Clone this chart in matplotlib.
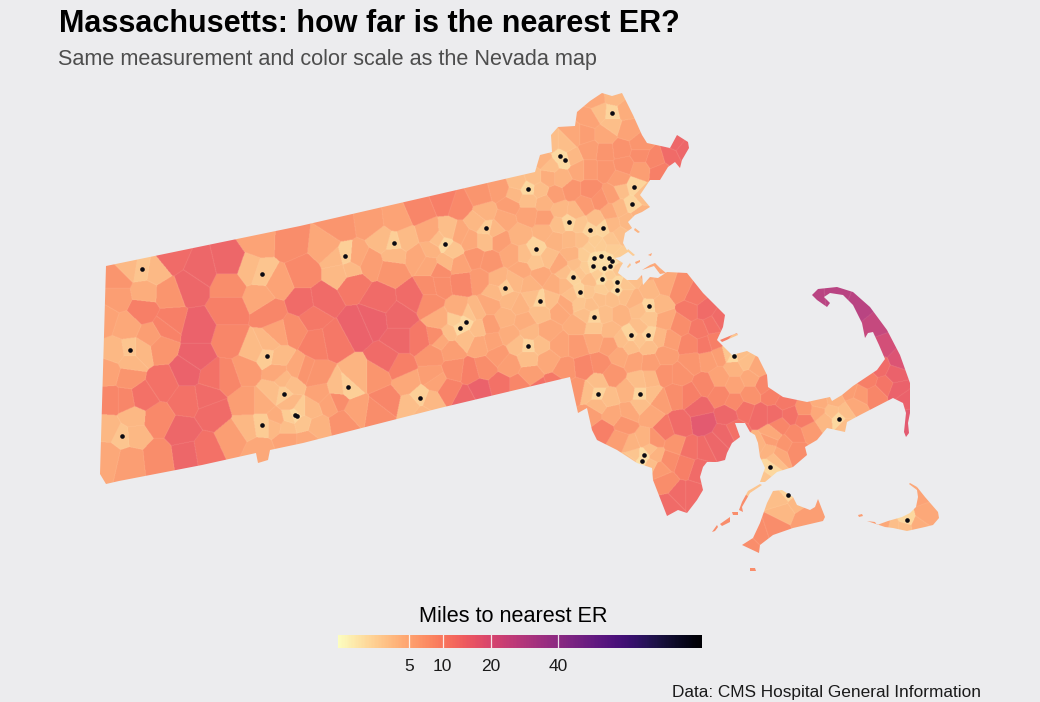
import numpy as np
import matplotlib
matplotlib.use('Agg')
import matplotlib.pyplot as plt
from matplotlib.colors import FuncNorm, to_rgb
from matplotlib.cm import ScalarMappable
from matplotlib.path import Path
from matplotlib.patches import PathPatch

BG = '#ECECEE'
plt.rcParams['font.family'] = ['Liberation Sans', 'DejaVu Sans']

# ---- coast outlines, in map units
mainland = [
    (106, 266), (300, 226), (535, 172), (540, 155), (552, 152), (551, 135), (558, 127), (575, 126),
    (577, 112), (590, 101), (602, 93), (612, 96), (622, 93), (633, 115), (642, 135), (647, 143), (670, 148),
    (677, 135), (688, 142), (689, 148), (682, 160), (680, 168), (675, 162), (668, 167), (660, 180),
    (650, 180), (640, 195), (650, 207), (642, 212), (635, 215), (628, 222), (632, 228), (625, 233),
    (623, 243), (628, 252), (620, 257), (615, 258), (623, 263), (620, 268), (618, 273), (627, 280),
    (637, 280), (642, 275), (643, 285), (650, 277), (658, 278), (667, 272), (687, 273), (703, 293),
    (725, 315), (723, 327), (717, 340), (732, 355), (747, 351), (758, 357), (767, 375), (768, 387),
    (783, 397), (807, 402), (830, 397), (832, 401), (842, 395), (853, 386), (877, 370), (885, 359),
    (879, 345), (873, 332), (868, 333), (865, 338), (862, 323), (853, 305), (843, 295), (830, 293), (824, 297), (830, 303),
    (827, 307), (817, 300), (812, 295), (818, 289), (837, 287), (853, 292), (870, 307), (887, 330),
    (900, 355), (910, 383), (910, 413), (908, 423), (909, 433), (906, 437), (904, 432), (906, 413),
    (903, 403), (893, 398), (860, 415), (847, 422), (845, 432), (827, 428), (817, 440), (805, 447),
    (807, 455), (793, 467), (777, 472), (765, 482), (760, 482), (765, 468), (760, 457), (758, 443),
    (755, 435), (750, 432), (745, 423), (735, 423), (740, 437), (732, 443), (727, 453), (725, 460),
    (717, 462), (707, 462), (703, 467), (700, 477), (703, 490), (697, 500), (687, 513), (678, 510),
    (667, 516), (653, 480), (652, 468), (637, 463), (617, 450), (597, 440), (592, 430), (587, 408),
    (578, 413), (570, 377), (440, 408), (303, 443), (270, 450), (268, 460), (258, 463), (256, 453),
    (202, 465), (119, 481), (106, 484), (100, 474),
]
vineyard = [
    (773, 491), (782, 490), (793, 497), (797, 505), (810, 510), (815, 507), (818, 499), (825, 517),
    (823, 521), (793, 528), (773, 535), (760, 545), (759, 553), (742, 545), (753, 538), (760, 523),
    (767, 503),
]
nantucket = [
    (910, 483), (917, 487), (925, 497), (938, 512), (939, 518), (933, 525), (925, 527), (907, 531),
    (893, 528), (885, 527), (867, 521), (875, 522), (877, 525), (888, 521), (902, 517), (910, 513),
    (916, 507), (918, 497), (917, 490), (909, 484),
]
small_islands = [
    [(762, 485), (750, 493), (742, 507), (743, 512), (739, 510), (742, 502), (748, 491), (760, 484)],
    [(738, 512), (732, 512), (733, 515), (738, 515)],
    [(730, 517), (720, 524), (722, 526), (730, 522)],
    [(717, 525), (712, 532), (715, 531), (718, 527)],
    [(750, 568), (755, 568), (756, 571), (750, 571)],
    [(858, 515), (862, 514), (863, 516), (859, 517)],
    [(642, 270), (650, 265), (655, 263), (660, 268), (666, 273), (660, 274), (654, 266), (648, 268)],
    [(635, 228), (640, 232), (638, 233), (634, 230)],
    [(628, 249), (635, 255), (633, 256), (627, 251)],
    [(648, 255), (652, 253), (651, 256)],
    [(627, 267), (630, 263), (631, 265), (628, 268)],
    [(635, 262), (640, 260), (640, 262), (636, 264)],
    [(720, 340), (737, 333), (738, 335), (722, 342)],
]

# ---- emergency rooms
er_x = [612, 560, 565, 528, 634, 632, 569, 590, 603, 486, 445, 536, 594, 601, 609, 612, 593, 604, 610,
        573, 602, 617, 617, 580, 505, 540, 649, 466, 460, 594, 631, 648, 528,
        142, 262, 345, 394, 130, 267, 284, 348, 420, 295, 297, 262, 122,
        598, 640, 644, 642, 734, 770, 839, 788, 907]
er_y = [113, 156, 160, 189, 187, 204, 222, 230, 228, 228, 244, 249, 258, 256, 258, 261, 266, 268, 266,
        277, 279, 282, 290, 292, 288, 301, 306, 322, 328, 317, 335, 335, 346,
        269, 274, 256, 243, 350, 356, 394, 387, 398, 415, 416, 425, 436,
        394, 394, 455, 461, 356, 467, 419, 495, 520]

# ---- miles to nearest ER per town / tract (x, y, miles)
towns_west = [
    (118, 280, 7), (142, 270, 2.5), (130, 268, 3.3), (155, 272, 3.3), (145, 292, 4.5), (168, 293, 7), (167, 327, 9.5),
    (200, 270, 14), (190, 285, 14), (230, 263, 14), (172, 258, 13), (260, 242, 5.5), (262, 274, 2.5), (250, 270, 3.2),
    (260, 297, 5), (278, 283, 5.5), (230, 285, 8), (230, 310, 10), (290, 243, 8), (303, 273, 8.5),
    (197, 330, 15), (197, 357, 15), (187, 372, 15), (127, 327, 5), (130, 350, 2.5), (117, 352, 3.5), (142, 350, 3.5),
    (130, 362, 3.5), (118, 297, 6), (105, 320, 5.5), (143, 310, 10), (150, 337, 6), (160, 347, 7), (170, 323, 10),
    (110, 372, 5.5), (128, 377, 7), (112, 400, 9), (125, 400, 9), (142, 397, 12), (163, 383, 12), (187, 400, 12),
    (122, 436, 2.5), (133, 418, 3.5), (110, 430, 3.5), (135, 435, 3.5), (108, 455, 5), (130, 460, 6), (157, 420, 8.5), (158, 457, 8),
    (183, 433, 14), (187, 453, 14), (207, 397, 13), (213, 377, 12), (213, 413, 13), (205, 450, 12),
    (227, 377, 9), (247, 403, 6), (233, 437, 6), (262, 425, 2), (248, 427, 3.5), (275, 425, 3.5), (262, 403, 4.5), (260, 450, 5),
    (230, 340, 9), (247, 370, 6.5), (267, 356, 2), (255, 350, 3.2), (278, 358, 3.2), (268, 344, 3.5), (278, 333, 5.5),
    (277, 372, 5), (284, 394, 2), (273, 392, 3), (292, 385, 3), (284, 380, 3.5), (297, 370, 5), (303, 372, 7),
    (317, 343, 10), (293, 330, 8), (303, 303, 13), (323, 300, 13), (270, 313, 9), (333, 340, 11), (313, 317, 11),
    (295, 415, 1.2), (290, 417, 2), (300, 410, 2), (303, 423, 2.5), (287, 427, 3), (310, 410, 3.5), (290, 403, 3.5),
    (317, 427, 4), (330, 403, 5.5), (307, 440, 5), (287, 440, 5.5), (277, 420, 4.5), (320, 393, 5.5),
]
towns_central = [
    (343, 423, 7.5), (317, 377, 7), (337, 400, 8), (348, 387, 1.8), (338, 388, 3), (357, 377, 3.8), (357, 410, 5.5),
    (377, 377, 7), (377, 413, 8), (387, 400, 9), (407, 383, 5), (420, 398, 1.8), (412, 405, 3), (430, 402, 3.5),
    (423, 414, 3.5), (433, 377, 6), (400, 367, 10), (387, 360, 13), (373, 320, 15), (357, 327, 15), (400, 317, 14),
    (400, 340, 14), (380, 300, 13), (413, 297, 13), (420, 340, 11), (430, 303, 8), (437, 337, 8), (393, 270, 7),
    (370, 263, 6), (345, 256, 1.8), (337, 258, 3.5), (340, 273, 3.3), (350, 270, 3.3), (327, 247, 5), (357, 257, 5),
    (370, 223, 6), (340, 227, 7), (394, 243, 1.8), (383, 240, 3.2), (405, 240, 3.2), (395, 255, 3.5), (417, 257, 5),
    (397, 220, 5.5), (420, 210, 9), (430, 233, 5), (440, 270, 8), (430, 287, 8), (353, 283, 11), (445, 200, 10),
    (505, 288, 2), (495, 292, 3.5), (515, 282, 3.5), (510, 300, 3.5), (498, 280, 4), (490, 305, 5), (520, 305, 4),
    (540, 301, 1.5), (532, 298, 3), (550, 300, 3), (540, 312, 3), (530, 285, 4), (555, 285, 4.5), (560, 310, 5),
    (525, 322, 4.5), (505, 318, 4), (490, 325, 6), (466, 322, 1.2), (460, 328, 1.2), (455, 320, 2), (470, 315, 2.5),
    (450, 332, 3), (465, 338, 3), (478, 328, 3), (476, 312, 3.5), (458, 310, 4.5), (440, 320, 4.5), (440, 340, 5),
    (480, 345, 5), (492, 342, 5.5), (452, 350, 6), (528, 346, 1.5), (528, 358, 3), (518, 345, 3), (540, 345, 3),
    (530, 333, 3.5), (510, 335, 4.5), (548, 332, 5), (548, 360, 5), (530, 375, 6), (510, 365, 6), (498, 355, 6.5),
    (560, 345, 5.5), (565, 370, 7), (555, 385, 11), (540, 390, 12), (520, 385, 9), (500, 385, 12), (480, 390, 15),
    (470, 372, 10), (485, 368, 8), (455, 370, 8), (450, 390, 9.5), (432, 355, 7), (435, 380, 5.5), (465, 398, 14),
]
towns_north = [
    (612, 113, 1.5), (612, 125, 3), (600, 112, 3), (625, 110, 4.5), (615, 98, 3.5), (595, 100, 5), (628, 130, 5.5),
    (590, 118, 5.5), (605, 135, 5), (585, 135, 6), (640, 145, 7), (622, 150, 7.5), (605, 152, 7), (655, 160, 9),
    (672, 155, 13), (682, 150, 14), (676, 145, 14), (660, 172, 10), (640, 170, 6), (640, 155, 8), (590, 150, 6),
    (575, 135, 5), (565, 145, 3), (560, 156, 1.2), (565, 160, 1.2), (552, 145, 3), (572, 158, 3.5), (550, 165, 3),
    (545, 160, 4), (578, 170, 5), (562, 178, 4), (590, 170, 6.5), (605, 170, 7), (620, 180, 6), (625, 165, 7.5),
    (534, 178, 3), (528, 189, 1.3), (518, 183, 3), (540, 190, 3), (528, 200, 3), (515, 195, 3.5), (548, 178, 4.5),
    (545, 203, 4), (555, 195, 6), (572, 190, 7), (590, 190, 8), (600, 200, 7.5), (612, 195, 6), (634, 187, 1.5),
    (632, 204, 1.5), (622, 190, 3), (642, 195, 3), (620, 208, 3.5), (640, 215, 4), (628, 222, 3.5), (610, 212, 5),
    (585, 205, 6.5), (560, 210, 3.5), (545, 218, 6), (528, 215, 5.5), (510, 205, 6), (500, 190, 6), (480, 195, 7),
    (460, 205, 8.5), (505, 220, 5), (520, 235, 4), (569, 222, 1.5), (558, 225, 3), (575, 212, 3.5), (580, 225, 2.5),
    (590, 230, 1.5), (603, 228, 1.5), (596, 220, 3), (612, 225, 3.5), (620, 235, 3), (612, 240, 2.5), (595, 243, 2),
    (582, 240, 3), (570, 240, 3.5), (555, 240, 4), (545, 232, 4), (536, 249, 1.5), (536, 262, 2.5), (525, 255, 3),
    (548, 258, 3), (540, 275, 5), (522, 270, 5), (512, 255, 5), (500, 240, 6), (486, 228, 2), (478, 222, 3.5),
    (495, 230, 3.5), (485, 240, 3), (470, 240, 5), (485, 213, 4), (475, 258, 7), (460, 235, 5), (445, 244, 1.3),
    (438, 240, 3), (452, 250, 2.5), (448, 232, 3), (432, 250, 4), (445, 262, 3.5), (430, 265, 5), (460, 265, 5.5),
    (490, 262, 7), (480, 280, 6.5), (462, 282, 9), (440, 285, 8),
]
towns_metro = [
    (594, 258, 1), (601, 256, 1), (609, 258, 1), (612, 261, 1), (593, 266, 1), (604, 268, 1), (610, 266, 1),
    (585, 255, 2), (590, 248, 2), (600, 247, 2), (612, 250, 2), (618, 256, 2), (585, 268, 2), (598, 275, 2),
    (610, 275, 2), (618, 270, 2.5), (590, 280, 3), (573, 277, 1.5), (565, 272, 3), (575, 265, 3), (580, 272, 2.5),
    (565, 285, 3.5), (572, 255, 4), (560, 265, 5), (602, 279, 1), (602, 290, 2), (610, 285, 2.2), (617, 282, 1.2),
    (617, 290, 1.2), (625, 285, 2.5), (625, 295, 3), (612, 298, 3), (600, 298, 3), (580, 292, 1.5), (588, 292, 2.5),
    (572, 295, 3), (580, 303, 2.5), (590, 305, 3), (565, 305, 5), (632, 278, 3), (645, 270, 5), (636, 230, 4),
]
towns_south = [
    (594, 317, 1.5), (594, 328, 2.5), (585, 315, 3), (605, 315, 3), (594, 340, 5), (578, 325, 4.5), (578, 345, 6.5),
    (610, 330, 3.5), (610, 345, 6), (620, 315, 4), (635, 300, 4), (649, 306, 1.5), (649, 318, 2.5), (640, 310, 3),
    (660, 305, 3.5), (650, 292, 3.5), (665, 320, 5), (665, 285, 5), (680, 290, 8), (695, 297, 11), (705, 310, 13),
    (690, 310, 11), (680, 325, 8), (700, 330, 11), (712, 325, 12), (720, 320, 13), (631, 335, 1.5), (648, 335, 1.5),
    (640, 328, 3), (622, 340, 3), (660, 338, 3.5), (631, 347, 3), (648, 347, 3), (640, 340, 2.5), (670, 340, 6),
    (620, 355, 5), (635, 360, 5.5), (650, 362, 6), (665, 355, 6), (690, 345, 9), (705, 345, 11), (715, 342, 10),
    (734, 356, 1.2), (728, 353, 2.5), (740, 355, 3), (745, 362, 3), (735, 368, 4), (720, 355, 6), (708, 360, 6),
    (750, 378, 5), (735, 385, 5.5), (720, 378, 5.5), (757, 368, 5), (692, 362, 7), (680, 375, 7.5), (665, 375, 7.5),
    (650, 380, 3.5), (640, 394, 1.5), (640, 382, 3), (652, 394, 3), (628, 392, 4), (640, 405, 3), (650, 415, 5),
    (630, 412, 5), (660, 400, 6), (612, 375, 7), (600, 365, 8), (585, 368, 9), (598, 394, 1.5), (608, 398, 3),
    (588, 392, 3), (598, 382, 3), (598, 405, 3.5), (592, 415, 6), (612, 415, 5), (625, 425, 7), (603, 430, 10),
    (578, 390, 7), (675, 395, 8), (690, 395, 10), (705, 385, 9), (720, 395, 9), (735, 402, 8.5), (750, 395, 7.5),
    (765, 385, 9), (772, 395, 10), (785, 402, 11), (700, 408, 14), (703, 422, 17), (728, 415, 14), (745, 410, 12),
    (760, 415, 13), (775, 415, 13), (790, 415, 12), (805, 420, 10.5), (680, 425, 13), (665, 430, 11), (655, 440, 7),
    (675, 445, 7), (690, 450, 12), (705, 450, 13), (715, 445, 14), (725, 435, 14), (735, 430, 12), (700, 470, 13),
    (685, 465, 10), (670, 460, 8), (660, 470, 6.5), (665, 482, 8), (680, 495, 13), (670, 505, 13), (692, 495, 13),
    (644, 455, 1), (642, 461, 1), (635, 455, 2.5), (650, 450, 3), (632, 445, 4), (645, 440, 4), (650, 465, 3),
    (655, 455, 4), (620, 440, 6), (630, 462, 3),
]
towns_cape = [
    (770, 467, 1.3), (775, 460, 3), (762, 478, 2.5), (768, 450, 4), (780, 455, 5), (760, 445, 4), (772, 435, 5),
    (785, 445, 7), (795, 450, 8), (795, 435, 8.5), (780, 425, 9), (770, 440, 6), (810, 430, 6.5), (825, 420, 3.5),
    (839, 419, 1.3), (845, 412, 3), (832, 412, 3), (845, 425, 3), (818, 412, 5), (805, 410, 7), (820, 403, 4.5),
    (835, 400, 4), (855, 405, 5), (860, 395, 6.5), (850, 392, 6), (875, 395, 9), (868, 380, 10), (885, 385, 11.5),
    (895, 375, 15), (880, 368, 13), (898, 390, 15), (905, 400, 15), (908, 420, 17), (900, 360, 19), (885, 345, 21),
    (878, 325, 25), (862, 305, 28), (835, 295, 28), (815, 297, 28),
]
towns_islands = [
    (788, 495, 1.5), (782, 500, 3), (795, 503, 3.5), (785, 510, 3.5), (775, 530, 8), (760, 535, 8), (750, 545, 8),
    (805, 518, 6), (910, 490, 5), (907, 520, 1.3), (905, 527, 3), (893, 527, 3), (885, 525, 5), (870, 522, 6),
    (925, 515, 5), (918, 495, 5.5), (918, 525, 4.5), (735, 515, 8), (752, 570, 8), (860, 515, 6),
]

# colour scale ticks
bar_ticks = [5, 10, 20, 40]
bar_min = 0.09
bar_max = 105

towns = np.array(towns_west + towns_central + towns_north + towns_metro
                 + towns_south + towns_cape + towns_islands, dtype=float)

fig = plt.figure(figsize=(10.4, 7.02), dpi=100, facecolor=BG)
ax = fig.add_axes([0, 0, 1, 1])
ax.set_xlim(0, 1040)
ax.set_ylim(702, 0)
ax.axis('off')

norm = FuncNorm((np.sqrt, np.square), vmin=bar_min, vmax=bar_max)
cmap = plt.get_cmap('magma_r')

# each pixel of the map goes to its closest town, which gives the facets
scale = 2
gx, gy = np.meshgrid((np.arange(1040 * scale) + 0.5) / scale, (np.arange(702 * scale) + 0.5) / scale)
gx = gx.astype(np.float32)
gy = gy.astype(np.float32)
best = np.full(gx.shape, 1e9, dtype=np.float32)
owner = np.zeros(gx.shape, dtype=np.int32)
for i, (tx, ty, _) in enumerate(towns):
    d = (gx - tx) ** 2 + (gy - ty) ** 2
    m = d < best
    best[m] = d[m]
    owner[m] = i

# fills are slightly see-through over the background
fills = cmap(norm(towns[:, 2]))[:, :3] * 0.92 + np.array(to_rgb(BG)) * 0.08
rgb = fills[owner]
# faint light borders between towns
edge = np.zeros(owner.shape, dtype=bool)
edge[:-1, :] |= owner[:-1, :] != owner[1:, :]
edge[:, :-1] |= owner[:, :-1] != owner[:, 1:]
rgb[edge] = rgb[edge] * 0.8 + np.array([1.0, 0.93, 0.82]) * 0.2

verts = []
codes = []
for poly in [mainland, vineyard, nantucket] + small_islands:
    verts += list(poly) + [poly[0]]
    codes += [Path.MOVETO] + [Path.LINETO] * (len(poly) - 1) + [Path.CLOSEPOLY]
state = PathPatch(Path(verts, codes), transform=ax.transData, facecolor='none', edgecolor='none')
ax.add_patch(state)
im = ax.imshow(rgb, extent=(0, 1040, 702, 0), interpolation='antialiased', aspect='auto')
im.set_clip_path(state)
ax.set_xlim(0, 1040)
ax.set_ylim(702, 0)

ax.scatter(er_x, er_y, s=11, c='#0A0A12', linewidths=0, zorder=3)

fig.text(59 / 1040, 1 - 24 / 702, 'Massachusetts: how far is the nearest ER?', fontsize=22,
         fontweight='bold', color='black', va='center', ha='left')
fig.text(58 / 1040, 1 - 59 / 702, 'Same measurement and color scale as the Nevada map', fontsize=15.55,
         color='#4D4D4D', va='center', ha='left')
fig.text(981 / 1040, 1 - 693 / 702, 'Data: CMS Hospital General Information', fontsize=12.4,
         color='#1A1A1A', va='center', ha='right')
fig.text(513.5 / 1040, 1 - 617 / 702, 'Miles to nearest ER', fontsize=15.6, color='black',
         va='center', ha='center')

cax = fig.add_axes([338 / 1040, (702 - 648) / 702, 364 / 1040, 13 / 702])
cb = fig.colorbar(ScalarMappable(norm=norm, cmap=cmap), cax=cax, orientation='horizontal')
cb.set_ticks(bar_ticks)
cb.set_ticklabels([str(t) for t in bar_ticks])
cb.outline.set_visible(False)
cax.tick_params(length=0, labelsize=12.5, pad=8, colors='#1A1A1A')
cax.minorticks_off()
for t in bar_ticks:
    cax.axvline(t, color='white', lw=0.9, alpha=0.85)

fig.savefig('out.png', dpi=100, facecolor=BG)
